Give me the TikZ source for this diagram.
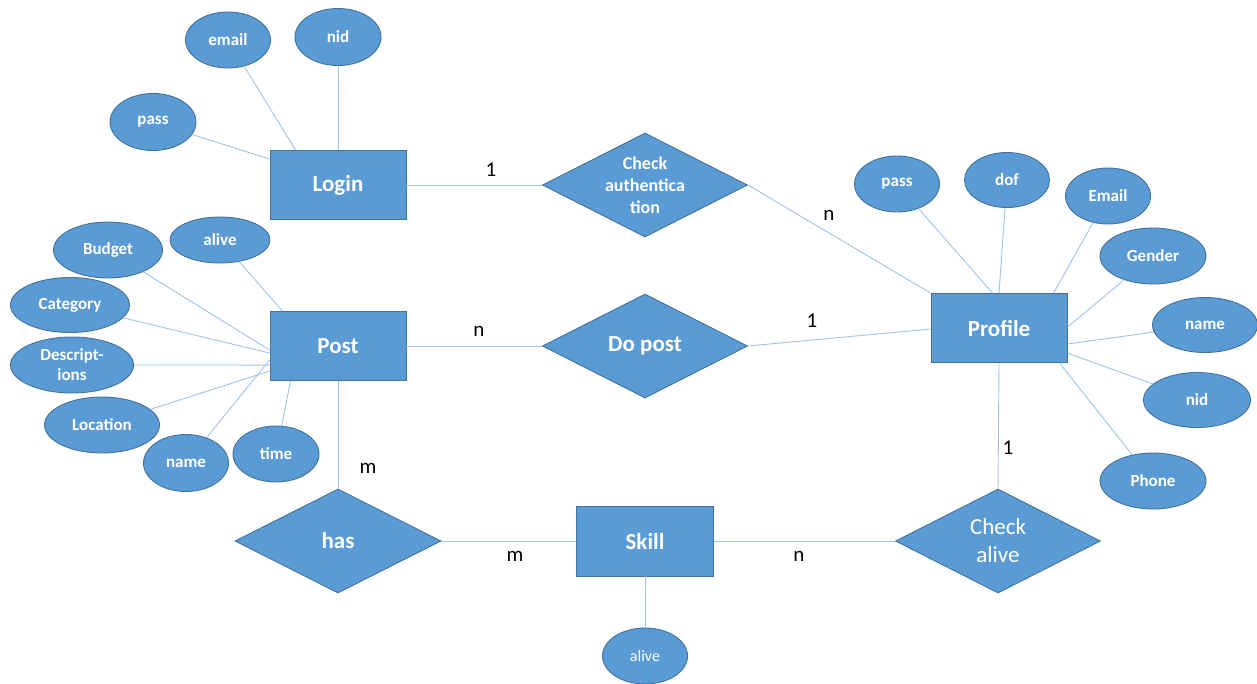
\documentclass[tikz,border=0pt]{standalone}
\usepackage{fontspec}
\setmainfont{Carlito}
\usetikzlibrary{shapes.geometric,calc}
\definecolor{fillc}{HTML}{5B9BD5}
\definecolor{edgec}{HTML}{41719C}
\definecolor{linec}{HTML}{9DC3E6}
\tikzset{
  entity/.style={rectangle, draw=edgec, fill=fillc, line width=0.9pt, minimum width=136, minimum height=69, inner sep=0pt, text=white, font=\fontsize{23}{27}\selectfont\bfseries},
  attr/.style={ellipse, draw=edgec, fill=fillc, line width=0.9pt, inner sep=0pt, text=white, font=\fontsize{17}{20}\selectfont\bfseries},
  attrtext/.style={text=white, font=\fontsize{17}{20}\selectfont\bfseries, inner sep=0pt},
  rel/.style={diamond, draw=edgec, fill=fillc, line width=0.9pt, minimum width=205, minimum height=104, inner sep=0pt},
  reltext/.style={text=white, align=center, inner sep=0pt},
  conn/.style={draw=linec, line width=0.9pt},
  card/.style={text=black, font=\fontsize{21}{24}\selectfont, inner sep=0pt}
}
\begin{document}
\begin{tikzpicture}[x=1pt,y=-1pt]
\useasboundingbox (0,0) rectangle (1257,683);
% entities
\node[entity] (login) at (338,185) {Login};
\node[entity] (post) at (338,346) {Post};
\node[entity] (profile) at (999,328) {Profile};
\node[entity, minimum width=137, minimum height=70] (skill) at (645,541) {Skill};
% relationships
\node[rel] (chk) at (645,185) {};
\node[reltext, font=\fontsize{18}{22}\selectfont\bfseries] (chkt) at (chk) {Check\\authentica\\tion};
\node[rel] (dopost) at (645,346) {};
\node[reltext, font=\fontsize{23}{27}\selectfont\bfseries] (dopostt) at (dopost) {Do post};
\node[rel, minimum width=206] (has) at (338,541) {};
\node[reltext, font=\fontsize{23}{27}\selectfont\bfseries] (hast) at (has) {has};
\node[rel] (chka) at (998,541) {};
\node[reltext, font=\fontsize{23}{28}\selectfont] (chkat) at (chka) {Check\\alive};
% login attributes
\node[attr, minimum width=85, minimum height=56] (lemail) at (228,40) {email};
\node[attr, minimum width=86, minimum height=57] (lnid) at (338,37) {nid};
\node[attr, minimum width=86, minimum height=57] (lpass) at (153,122) {pass};
% post attributes
\node[attr, minimum width=100, minimum height=46] (palive) at (220,240) {alive};
\node[attr, minimum width=109, minimum height=56] (pbudget) at (108,250) {Budget};
\node[attr, minimum width=119, minimum height=55] (pcat) at (70,305) {Category};
\node[attr, minimum width=123, minimum height=56, label={[attrtext, align=center]center:{Descript-\\ions}}] (pdesc) at (72,365) {};
\node[attr, minimum width=115, minimum height=56] (ploc) at (102,425) {Location};
\node[attr, minimum width=85, minimum height=57] (pname) at (186,463) {name};
\node[attr, minimum width=86, minimum height=56] (ptime) at (276,454) {time};
% profile attributes
\node[attr, minimum width=85, minimum height=56] (rpass) at (897,184) {pass};
\node[attr, minimum width=85, minimum height=55] (rdof) at (1007,180) {dof};
\node[attr, minimum width=85, minimum height=56] (remail) at (1108,196) {Email};
\node[attr, minimum width=106, minimum height=56] (rgender) at (1153,256) {Gender};
\node[attr, minimum width=105, minimum height=55] (rname) at (1205,325) {name};
\node[attr, minimum width=107, minimum height=55] (rnid) at (1197,400) {nid};
\node[attr, minimum width=106, minimum height=56] (rphone) at (1153,481) {Phone};
% skill attribute
\node[attr, minimum width=85, minimum height=56, font=\fontsize{16}{19}\selectfont] (salive) at (645,656) {alive};
% connectors: login
\draw[conn] (lemail) -- ($(login.north west)+(26,0)$);
\draw[conn] (lnid) -- (login.north);
\draw[conn] (lpass) -- ($(login.north west)+(0,9)$);
% connectors: post
\draw[conn] (palive) -- ($(post.north west)+(13,0)$);
\draw[conn] (pbudget) -- ($(post.north west)+(0,39)$);
\draw[conn] (pcat) -- ($(post.north west)+(0,42)$);
\draw[conn] (pdesc) -- ($(post.north west)+(0,54)$);
\draw[conn] (ploc) -- ($(post.north west)+(0,60)$);
\draw[conn] (pname) -- ($(post.north west)+(0,49)$);
\draw[conn] (ptime) -- ($(post.south west)+(21,0)$);
% connectors: profile
\draw[conn] (rpass) -- ($(profile.north west)+(62,0)$);
\draw[conn] (rdof) -- (profile.north);
\draw[conn] (remail) -- ($(profile.north west)+(123,0)$);
\draw[conn] (rgender) -- ($(profile.north east)+(0,34)$);
\draw[conn] (rname) -- ($(profile.north east)+(0,51)$);
\draw[conn] (rnid) -- ($(profile.north east)+(0,60)$);
\draw[conn] (rphone) -- ($(profile.south east)+(-8,0)$);
% connectors: skill
\draw[conn] (skill.south) -- (salive);
% relationships
\draw[conn] (login.east) -- (chk.west);
\draw[conn] (chk.east) -- (profile.north west);
\draw[conn] (post.east) -- (dopost.west);
\draw[conn] (dopost.east) -- ($(profile.north west)+(0,36)$);
\draw[conn] (profile.south) -- (chka.north);
\draw[conn] (post.south) -- (has.north);
\draw[conn] (has.east) -- (skill.west);
\draw[conn] (skill.east) -- (chka.west);
% cardinalities
\node[card] (c1) at (491,170) {1};
\node[card] (c2) at (829,215) {n};
\node[card] (c3) at (479,331) {n};
\node[card] (c4) at (812,321) {1};
\node[card] (c5) at (1008,448) {1};
\node[card] (c6) at (368,468) {m};
\node[card] (c7) at (515,556) {m};
\node[card] (c8) at (799,556) {n};
\end{tikzpicture}
\end{document}
